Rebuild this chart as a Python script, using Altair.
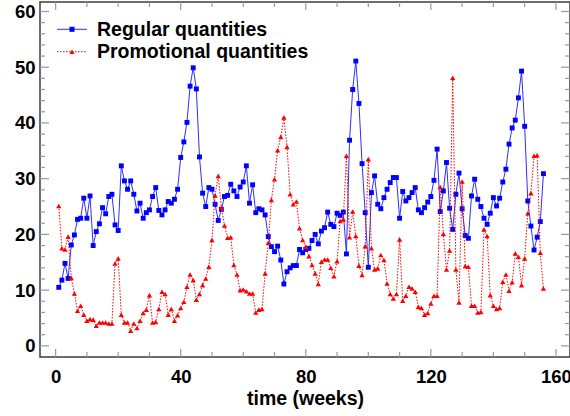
import altair as alt
import pandas as pd

# ---------------- data ----------------
weeks = list(range(1, 157))

regular = [
    10.5, 11.8, 14.8, 12.1, 18.1, 19.9, 22.7, 22.9, 26.5, 22.9,
    26.9, 18.0, 20.5, 21.9, 24.8, 23.7, 26.8, 27.2, 21.7, 20.7,
    32.3, 29.6, 28.1, 29.6, 27.2, 24.2, 25.6, 22.9, 23.9, 24.4,
    26.8, 28.4, 24.3, 23.5, 24.4, 25.9, 25.6, 26.3, 28.1, 33.8,
    36.6, 40.1, 46.6, 49.9, 46.1, 33.9, 27.4, 25.0, 28.4, 28.1,
    25.4, 22.5, 24.5, 26.8, 27.0, 29.0, 27.8, 26.8, 28.5, 29.4,
    32.3, 25.6, 28.9, 23.9, 24.6, 24.4, 23.5, 19.6, 17.8, 16.9,
    17.9, 15.4, 11.1, 13.3, 14.0, 14.4, 14.4, 17.3, 16.7, 17.3,
    17.5, 18.9, 20.0, 18.3, 20.6, 21.2, 24.0, 21.8, 21.4, 23.8,
    23.4, 24.0, 16.5, 36.9, 46.0, 51.1, 43.5, 32.7, 23.9, 14.1,
    27.5, 30.5, 25.4, 24.6, 26.6, 28.1, 29.3, 30.2, 30.2, 22.9,
    27.7, 26.0, 26.6, 27.5, 28.4, 24.4, 23.9, 24.8, 25.8, 26.8,
    29.7, 35.3, 24.1, 27.8, 32.9, 24.7, 20.9, 27.2, 31.0, 24.6,
    19.8, 19.3, 26.9, 29.9, 26.3, 25.0, 22.9, 21.8, 23.8, 26.6,
    25.1, 26.5, 29.4, 31.7, 36.2, 39.1, 40.5, 44.5, 49.3, 39.4,
    26.0, 21.5, 17.2, 19.5, 22.3, 30.9,
]

promotional = [
    25.1, 17.5, 17.3, 19.6, 12.2, 9.4, 6.3, 7.2, 5.6, 4.5,
    4.8, 4.7, 3.6, 4.2, 4.2, 4.2, 4.0, 4.0, 14.8, 15.7,
    5.6, 4.2, 4.2, 2.7, 4.0, 3.2, 4.5, 5.9, 6.5, 9.1,
    4.2, 4.3, 6.6, 9.7, 9.3, 5.6, 6.6, 4.5, 5.5, 6.8,
    7.9, 10.6, 12.8, 11.8, 8.3, 9.3, 10.9, 12.1, 14.2, 19.0,
    27.0, 30.5, 24.8, 21.6, 19.4, 19.5, 14.5, 12.8, 10.0, 10.1,
    9.8, 9.4, 9.4, 6.0, 6.5, 6.6, 13.0, 18.5, 26.2, 29.9,
    35.1, 37.5, 41.0, 35.7, 27.2, 25.4, 25.9, 21.1, 19.0, 17.8,
    16.1, 14.5, 13.0, 11.1, 15.1, 15.5, 15.5, 14.0, 12.5, 15.2,
    22.4, 22.7, 34.1, 19.5, 24.1, 19.7, 14.4, 12.7, 17.9, 33.5,
    17.5, 13.7, 13.9, 16.3, 15.4, 11.2, 9.3, 8.5, 9.3, 19.1,
    8.1, 9.0, 10.6, 10.3, 9.7, 7.0, 6.8, 5.6, 5.9, 7.6,
    9.0, 9.0, 28.5, 20.1, 13.7, 17.1, 48.1, 13.7, 7.8, 29.5,
    14.3, 14.2, 7.2, 7.2, 6.0, 6.1, 20.9, 19.7, 9.1, 7.2,
    6.6, 6.8, 11.5, 12.8, 9.9, 11.4, 16.6, 16.0, 10.9, 15.7,
    23.8, 27.4, 34.1, 34.2, 16.7, 10.3,
]

series_names = ["Regular quantities", "Promotional quantities"]
x_major = [0, 40, 80, 120, 160]
x_minor = [10, 20, 30, 50, 60, 70, 90, 100, 110, 130, 140, 150]
y_major = [0, 10, 20, 30, 40, 50, 60]
y_minor = [v for v in range(2, 60, 2) if v % 10 != 0]

# ---------------- layout / style ----------------
W, H = 530, 355
FONT = "Liberation Sans"
xscale = alt.Scale(domain=[-5, 164.5], nice=False, zero=False)
yscale = alt.Scale(domain=[-2, 61.7], nice=False, zero=False)

df_reg = pd.DataFrame({"week": weeks, "value": regular})
df_pro = pd.DataFrame({"week": weeks, "value": promotional})

x_axis = alt.Axis(values=x_major, title="time (weeks)", ticks=False, tickSize=0,
                  domain=False, grid=False, labelFont=FONT, labelFontWeight="bold",
                  labelFontSize=18.5, labelColor="black", labelPadding=10,
                  labelFlush=False, titleFont=FONT, titleFontSize=19.5,
                  titleFontWeight="bold", titleColor="black", titlePadding=4)
y_axis = alt.Axis(values=y_major, title=None, ticks=False, tickSize=0,
                  domain=False, grid=False, labelFont=FONT, labelFontWeight="bold",
                  labelFontSize=18.5, labelColor="black", labelPadding=5,
                  labelFlush=False)

def X(field):
    return alt.X(field, scale=xscale, axis=x_axis)

def Y(field):
    return alt.Y(field, scale=yscale, axis=y_axis)

BLUE_LINE = "#2f2fff"
BLUE = "#0000ff"
RED = "#ff0000"

reg_line = alt.Chart(df_reg).mark_line(color=BLUE_LINE, strokeWidth=1).encode(
    x=X("week:Q"), y=Y("value:Q"))
reg_pts = alt.Chart(df_reg).mark_point(shape="square", filled=True, color=BLUE,
                                       size=24, opacity=1).encode(
    x=X("week:Q"), y=Y("value:Q"))
pro_line = alt.Chart(df_pro).mark_line(color=RED, strokeWidth=1,
                                       strokeDash=[1.5, 1.5]).encode(
    x=X("week:Q"), y=Y("value:Q"))
pro_pts = alt.Chart(df_pro).mark_point(shape="triangle-up", filled=True, color=RED,
                                       size=28, opacity=1).encode(
    x=X("week:Q"), y=Y("value:Q"))

# ---------------- inward ticks on all four sides ----------------
TICK_COLOR = "#9a9a9a"
def yticks(vals, length):
    d = pd.DataFrame({"v": vals})
    left = alt.Chart(d).mark_rule(color=TICK_COLOR, strokeWidth=1.2).encode(
        y=Y("v:Q"), x=alt.value(0), x2=alt.value(length))
    right = alt.Chart(d).mark_rule(color=TICK_COLOR, strokeWidth=1.2).encode(
        y=Y("v:Q"), x=alt.value(W - length), x2=alt.value(W))
    return [left, right]

def xticks(vals, length):
    d = pd.DataFrame({"v": vals})
    bottom = alt.Chart(d).mark_rule(color=TICK_COLOR, strokeWidth=1.2).encode(
        x=X("v:Q"), y=alt.value(H - length), y2=alt.value(H))
    top = alt.Chart(d).mark_rule(color=TICK_COLOR, strokeWidth=1.2).encode(
        x=X("v:Q"), y=alt.value(0), y2=alt.value(length))
    return [bottom, top]

ticks = yticks(y_major, 9) + yticks(y_minor, 5) + xticks(x_major, 8) + xticks(x_minor, 5)

# ---------------- legend (top-left, inside plot) ----------------
legend_layers = []
leg_specs = [
    (series_names[0], BLUE_LINE, BLUE, "square", None, 27.3, 34.3),
    (series_names[1], RED, RED, "triangle-up", [1.5, 1.5], 49.7, 56.3),
]
for name, lcol, mcol, shape, dash, ysym, ybase in leg_specs:
    d = pd.DataFrame({"label": [name]})
    rule_kwargs = dict(color=lcol, strokeWidth=1)
    if dash:
        rule_kwargs["strokeDash"] = dash
    legend_layers.append(alt.Chart(d).mark_rule(**rule_kwargs).encode(
        x=alt.value(17), x2=alt.value(47), y=alt.value(ysym)))
    legend_layers.append(alt.Chart(d).mark_point(shape=shape, filled=True, color=mcol,
                                                 size=26, opacity=1).encode(
        x=alt.value(32), y=alt.value(ysym)))
    legend_layers.append(alt.Chart(d).mark_text(align="left", baseline="alphabetic",
                                                font=FONT, fontWeight="bold",
                                                fontSize=19.5, color="black").encode(
        x=alt.value(57), y=alt.value(ybase), text="label:N"))

chart = alt.layer(
    reg_line, reg_pts, pro_line, pro_pts, *ticks, *legend_layers
).properties(
    width=W, height=H,
    padding={"left": 40, "top": 2, "right": 0, "bottom": 59},
    autosize=alt.AutoSizeParams(type="none"),
    background="white",
).configure_view(stroke="#3c3c3c", strokeWidth=1.5)

chart.save("out.html", embed_options={"renderer": "svg", "actions": False})
